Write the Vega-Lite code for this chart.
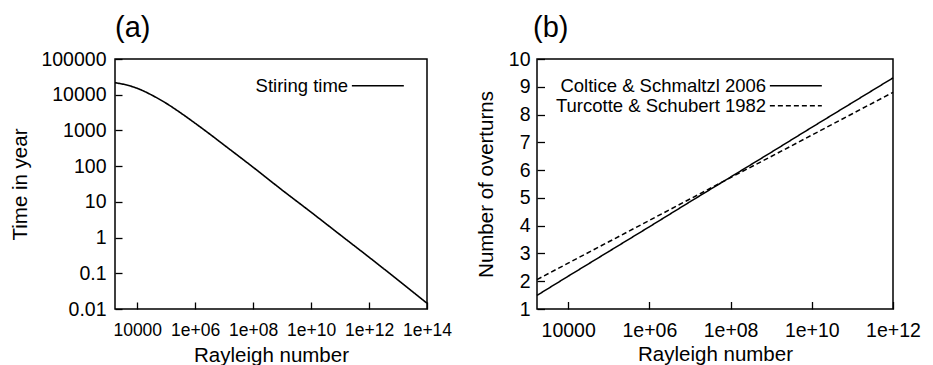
{
  "$schema": "https://vega.github.io/schema/vega-lite/v6.json",
  "padding": {"left": 10, "top": 13, "right": 0, "bottom": 0},
  "spacing": 22,
  "config": {
    "font": "Liberation Sans",
    "view": {"stroke": "black", "strokeWidth": 1.5},
    "axis": {"domain": false, "grid": false, "ticks": true, "tickColor": "black", "tickWidth": 1.3, "labelColor": "black", "titleColor": "black", "titleFontWeight": "normal", "labelFlush": false, "labelOverlap": false, "labelBound": false},
    "legend": {"padding": 0, "symbolType": "M-5,0H5", "symbolSize": 108, "symbolStrokeWidth": 1.5, "symbolStrokeColor": "black", "symbolFillColor": "transparent", "labelAlign": "right", "labelOffset": -39, "labelFontSize": 18.5, "labelLimit": 600, "labelColor": "black", "title": null, "symbolOffset": 0, "rowPadding": 1},
    "title": {"fontWeight": "normal", "fontSize": 29, "anchor": "start", "frame": "group", "color": "black"}
  },
  "resolve": {"scale": {"strokeDash": "independent"}, "legend": {"strokeDash": "independent"}},
  "hconcat": [
    {
      "width": 312,
      "height": 250,
      "title": {"text": "(a)", "offset": 6},
      "data": {"values": [
        {"Ra": 1708, "t": 21700, "series": "Stiring time"},
        {"Ra": 3981, "t": 19000, "series": "Stiring time"},
        {"Ra": 10000, "t": 15100, "series": "Stiring time"},
        {"Ra": 31623, "t": 9770, "series": "Stiring time"},
        {"Ra": 100000, "t": 5750, "series": "Stiring time"},
        {"Ra": 316228, "t": 3090, "series": "Stiring time"},
        {"Ra": 1000000, "t": 1585, "series": "Stiring time"},
        {"Ra": 3162278, "t": 794, "series": "Stiring time"},
        {"Ra": 10000000, "t": 389, "series": "Stiring time"},
        {"Ra": 100000000, "t": 93, "series": "Stiring time"},
        {"Ra": 1000000000, "t": 21.4, "series": "Stiring time"},
        {"Ra": 10000000000, "t": 5.13, "series": "Stiring time"},
        {"Ra": 100000000000, "t": 1.2, "series": "Stiring time"},
        {"Ra": 1000000000000, "t": 0.282, "series": "Stiring time"},
        {"Ra": 10000000000000, "t": 0.0646, "series": "Stiring time"},
        {"Ra": 100000000000000, "t": 0.0145, "series": "Stiring time"}
      ]},
      "mark": {"type": "line", "color": "black", "strokeWidth": 1.6, "interpolate": "monotone"},
      "encoding": {
        "x": {"field": "Ra", "type": "quantitative", "scale": {"type": "log", "domain": [1708, 100000000000000], "nice": false},
          "axis": {"orient": "bottom", "title": "Rayleigh number", "tickSize": 7, "offset": -7, "values": [10000, 1000000, 100000000, 10000000000, 1000000000000, 100000000000000],
            "labelExpr": "datum.value < 50000 ? '10000' : '1e+' + (round(log(datum.value)/LN10) < 10 ? '0' : '') + round(log(datum.value)/LN10)",
            "labelFontSize": 17.5, "titleFontSize": 20.5, "labelPadding": 12, "titlePadding": 7}},
        "y": {"field": "t", "type": "quantitative", "scale": {"type": "log", "domain": [0.01, 100000], "nice": false},
          "axis": {"orient": "left", "title": "Time in year", "tickSize": 7, "offset": -7, "values": [0.01, 0.1, 1, 10, 100, 1000, 10000, 100000], "format": "~g",
            "labelFontSize": 19.5, "titleFontSize": 20.5, "labelPadding": 9, "titlePadding": 10}},
        "strokeDash": {"field": "series", "type": "nominal", "scale": {"domain": ["Stiring time"], "range": [[1, 0]]},
          "legend": {"orient": "none", "legendX": 253.6, "legendY": 17.5}}
      }
    },
    {
      "width": 356,
      "height": 250,
      "title": {"text": "(b)", "offset": 6, "dx": -4},
      "data": {"values": [
        {"Ra": 1708, "N": 1.49, "series": "Coltice & Schmaltzl 2006"},
        {"Ra": 10000, "N": 2.18, "series": "Coltice & Schmaltzl 2006"},
        {"Ra": 100000, "N": 3.07, "series": "Coltice & Schmaltzl 2006"},
        {"Ra": 1000000, "N": 3.96, "series": "Coltice & Schmaltzl 2006"},
        {"Ra": 10000000, "N": 4.86, "series": "Coltice & Schmaltzl 2006"},
        {"Ra": 100000000, "N": 5.75, "series": "Coltice & Schmaltzl 2006"},
        {"Ra": 1000000000, "N": 6.64, "series": "Coltice & Schmaltzl 2006"},
        {"Ra": 10000000000, "N": 7.54, "series": "Coltice & Schmaltzl 2006"},
        {"Ra": 100000000000, "N": 8.43, "series": "Coltice & Schmaltzl 2006"},
        {"Ra": 1000000000000, "N": 9.32, "series": "Coltice & Schmaltzl 2006"},
        {"Ra": 1708, "N": 2.06, "series": "Turcotte & Schubert 1982"},
        {"Ra": 10000, "N": 2.65, "series": "Turcotte & Schubert 1982"},
        {"Ra": 100000, "N": 3.42, "series": "Turcotte & Schubert 1982"},
        {"Ra": 1000000, "N": 4.19, "series": "Turcotte & Schubert 1982"},
        {"Ra": 10000000, "N": 4.96, "series": "Turcotte & Schubert 1982"},
        {"Ra": 100000000, "N": 5.73, "series": "Turcotte & Schubert 1982"},
        {"Ra": 1000000000, "N": 6.49, "series": "Turcotte & Schubert 1982"},
        {"Ra": 10000000000, "N": 7.26, "series": "Turcotte & Schubert 1982"},
        {"Ra": 100000000000, "N": 8.03, "series": "Turcotte & Schubert 1982"},
        {"Ra": 1000000000000, "N": 8.8, "series": "Turcotte & Schubert 1982"}
      ]},
      "mark": {"type": "line", "color": "black", "strokeWidth": 1.5},
      "encoding": {
        "x": {"field": "Ra", "type": "quantitative", "scale": {"type": "log", "domain": [1708, 1000000000000], "nice": false},
          "axis": {"orient": "bottom", "title": "Rayleigh number", "tickSize": 7.5, "offset": -7.5, "values": [10000, 1000000, 100000000, 10000000000, 1000000000000],
            "labelExpr": "datum.value < 50000 ? '10000' : '1e+' + (round(log(datum.value)/LN10) < 10 ? '0' : '') + round(log(datum.value)/LN10)",
            "labelFontSize": 19.5, "titleFontSize": 20.5, "labelPadding": 12, "titlePadding": 5}},
        "y": {"field": "N", "type": "quantitative", "scale": {"domain": [1, 10], "nice": false, "zero": false},
          "axis": {"orient": "left", "title": "Number of overturns", "tickSize": 7.5, "offset": -7.5, "values": [1, 2, 3, 4, 5, 6, 7, 8, 9, 10],
            "labelFontSize": 19.5, "titleFontSize": 20.5, "labelPadding": 7, "titlePadding": 12}},
        "strokeDash": {"field": "series", "type": "nominal", "scale": {"domain": ["Coltice & Schmaltzl 2006", "Turcotte & Schubert 1982"], "range": [[1, 0], [5, 3]]},
          "legend": {"orient": "none", "legendX": 249.6, "legendY": 17.5}}
      }
    }
  ]
}
